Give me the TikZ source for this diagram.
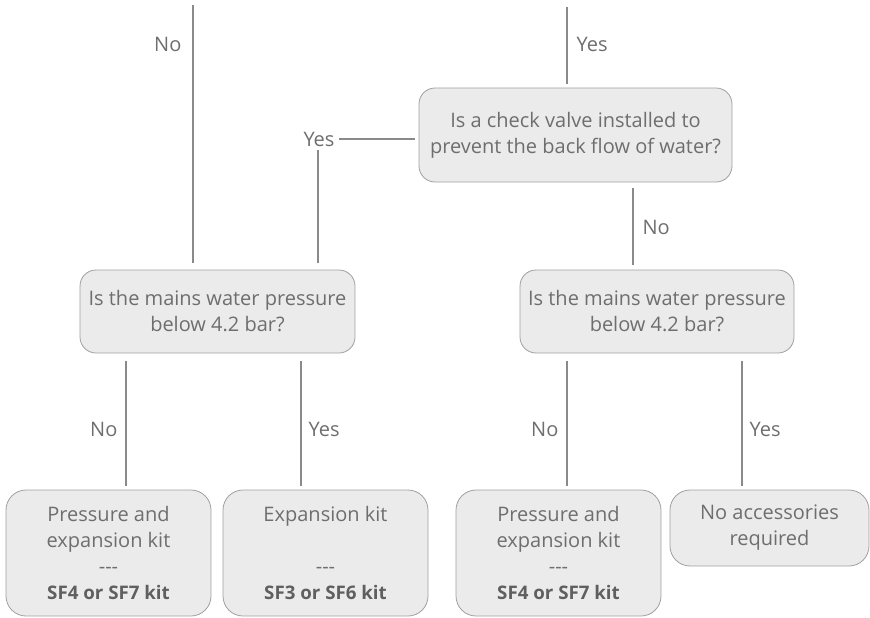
\documentclass[tikz,border=0pt]{standalone}
\usepackage{fontspec}
\setmainfont{Open Sans}
\usetikzlibrary{positioning}
\definecolor{boxfill}{RGB}{235,235,235}
\definecolor{boxline}{RGB}{160,160,160}
\definecolor{wire}{RGB}{138,138,138}
\definecolor{inktext}{RGB}{110,110,110}
\definecolor{inkbold}{RGB}{95,95,95}
\newcommand{\kitcode}[1]{{\fontsize{18.7}{26}\selectfont\bfseries\color{inkbold}#1}}

\begin{document}
\begin{tikzpicture}[x=1pt, y=-1pt, every node/.style={font=\fontsize{20}{26}\selectfont, text=inktext},
  ask/.style={rounded corners=16pt, draw=boxline, fill=boxfill, line width=.8pt, align=center, inner sep=0pt},
  kit/.style={rounded corners=20pt, draw=boxline, fill=boxfill, line width=.8pt, align=center, inner sep=0pt, minimum width=205pt},
  link/.style={draw=wire, line width=1.3pt},
  lbl/.style={inner sep=0pt}]
  \useasboundingbox (0,0) rectangle (870,618);
  % question boxes
  \node[ask, minimum width=313pt, minimum height=94pt] (valve) at (575.5,135) {Is a check valve installed to\\prevent the back flow of water?};
  \node[ask, minimum width=275pt, minimum height=83pt] (mainsL) at (217.5,311.5) {Is the mains water pressure\\below 4.2 bar?};
  \node[ask, minimum width=274pt, minimum height=83pt] (mainsR) at (657,311.5) {Is the mains water pressure\\below 4.2 bar?};
  % answer boxes
  \node[kit, minimum height=126pt] (kitA) at (108.5,553) {Pressure and\\expansion kit\\-{}-{}-\\\kitcode{SF4 or SF7 kit}};
  \node[kit, minimum height=126pt] (kitB) at (325.5,553) {Expansion kit\\\strut\\-{}-{}-\\\kitcode{SF3 or SF6 kit}};
  \node[kit, minimum height=126pt] (kitC) at (558.5,553) {Pressure and\\expansion kit\\-{}-{}-\\\kitcode{SF4 or SF7 kit}};
  \node[kit, minimum width=199pt, minimum height=76pt] (none) at (769.5,528) {No accessories\\required};
  % free ends and drop points
  \coordinate (topNo) at (193,5);
  \coordinate (topYes) at (567,7);
  \coordinate (dropV) at (633,0);
  \coordinate (dropLa) at (126,0);
  \coordinate (dropLb) at (301,0);
  \coordinate (dropRa) at (567,0);
  \coordinate (dropRb) at (742,0);
  \node[lbl] (yesV) at (319,139) {Yes};
  % connectors
  \draw[link, shorten >=7pt] (topNo) -- node[lbl, pos=.15, left=11pt] {No} (mainsL.north -| topNo);
  \draw[link, shorten >=4pt] (topYes) -- node[lbl, pos=.47, right=9pt] {Yes} (valve.north -| topYes);
  \draw[link, shorten <=4pt, shorten >=4pt] (valve.west |- yesV) -- (yesV.east);
  \draw[link, shorten <=4pt, shorten >=7pt] (yesV.south -| 318,0) -- (mainsL.north -| 318,0);
  \draw[link, shorten <=6pt, shorten >=5pt] (valve.south -| dropV) -- node[lbl, pos=.52, right=9pt] {No} (mainsR.north -| dropV);
  \draw[link, shorten <=8pt, shorten >=4pt] (mainsL.south -| dropLa) -- node[lbl, pos=.56, left=8pt] {No} (kitA.north -| dropLa);
  \draw[link, shorten <=8pt, shorten >=4pt] (mainsL.south -| dropLb) -- node[lbl, pos=.56, right=7pt] {Yes} (kitB.north -| dropLb);
  \draw[link, shorten <=8pt, shorten >=4pt] (mainsR.south -| dropRa) -- node[lbl, pos=.56, left=8pt] {No} (kitC.north -| dropRa);
  \draw[link, shorten <=8pt, shorten >=4pt] (mainsR.south -| dropRb) -- node[lbl, pos=.56, right=7pt] {Yes} (none.north -| dropRb);
\end{tikzpicture}
\end{document}
